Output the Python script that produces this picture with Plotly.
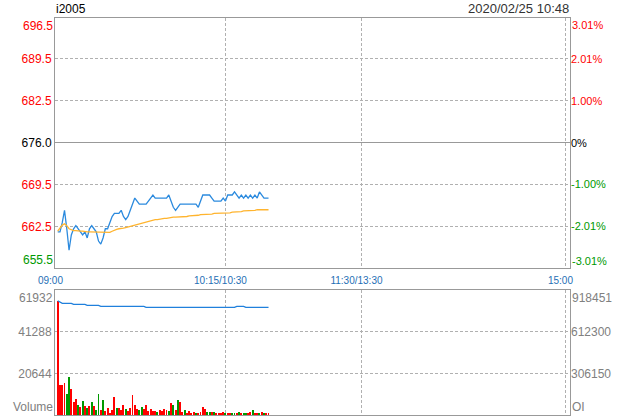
import plotly.graph_objects as go

# ---- data ----
minutes = list(range(1, 95))  # minutes after 09:00
price = [661.5, 661.5, 663.0, 665.0, 662.0, 658.5, 661.0, 662.0, 662.5, 662.0,
         661.5, 661.0, 661.5, 660.5, 662.0, 662.5, 662.0, 661.5, 660.0, 659.5,
         660.5, 662.0, 662.0, 663.0, 664.0, 664.5, 664.5, 664.5, 665.0, 664.0,
         663.5, 664.0, 665.0, 666.0, 667.0, 666.5, 666.0, 666.0, 666.0, 666.0,
         666.5, 667.0, 667.5, 667.0, 667.0, 667.0, 667.0, 667.0, 667.0, 667.5,
         666.5, 665.5, 665.0, 665.5, 666.0, 666.0, 666.0, 666.0, 666.0, 666.0,
         666.0, 666.0, 665.5, 666.5, 667.5, 667.5, 667.5, 667.5, 667.0, 666.5,
         666.5, 666.5, 666.5, 667.0, 666.5, 667.5, 667.5, 667.5, 668.0, 667.5,
         667.0, 667.5, 667.0, 667.5, 667.0, 667.5, 667.0, 667.5, 667.0, 668.0,
         667.5, 667.0, 667.0, 667.0]
avg_price = [661.6, 662.2, 662.6, 662.8, 662.5, 662.0, 661.8, 661.7, 661.7, 661.6,
             661.6, 661.6, 661.5, 661.5, 661.5, 661.5, 661.5, 661.5, 661.4, 661.4,
             661.4, 661.4, 661.4, 661.4, 661.6, 661.8, 661.9, 662.0, 662.0, 662.1,
             662.2, 662.3, 662.5, 662.6, 662.7, 662.8, 662.9, 663.0, 663.1, 663.2,
             663.3, 663.3, 663.4, 663.5, 663.5, 663.6, 663.6, 663.7, 663.7, 663.8,
             663.8, 663.9, 663.9, 663.9, 664.0, 664.0, 664.0, 664.0, 664.1, 664.1,
             664.1, 664.2, 664.2, 664.3, 664.3, 664.3, 664.4, 664.4, 664.4, 664.5,
             664.5, 664.5, 664.5, 664.6, 664.6, 664.6, 664.6, 664.7, 664.7, 664.8,
             664.8, 664.8, 664.9, 664.9, 664.9, 665.0, 665.0, 665.0, 665.1, 665.1,
             665.1, 665.1, 665.1, 665.1]
volume = [56600, 14560, 14560, 15890, 10430, 18870, 12910, 6120, 7940, 4970,
          3970, 6950, 4470, 3480, 4470, 6450, 4470, 2480, 10430, 2480,
          7450, 1990, 3480, 990, 2480, 8940, 3480, 3480, 2480, 4970,
          2980, 1990, 3480, 9930, 4970, 2980, 2480, 3970, 2980, 4970,
          1990, 2980, 1990, 1990, 1490, 2480, 1990, 2980, 2480, 1990,
          5960, 4970, 2480, 7450, 6450, 1490, 2480, 990, 1990, 500,
          1490, 500, 990, 1160, 3970, 2980, 1490, 1490, 1490, 1490,
          660, 990, 660, 1490, 660, 500, 500, 500, 500, 500,
          1490, 500, 990, 990, 990, 1490, 2480, 500, 500, 500,
          1490, 990, 500, 500]
vol_dir = list("rrrrggrrrg" "rgrgrgrggr" "grrrrrgrrr" "grrrrrggrr" "rrrrgrrrrg"
               "rgrgrrgrrr" "rgrrrrggrg" "rrrrgrrggr" "grggrrgrrg" "rgrr")
oi = [842000, 835000, 822400, 822400, 822400, 822400, 822400, 815100, 815100, 815100,
      815100, 815100, 815100, 807700, 807700, 807700, 807700, 807700, 807700, 800300,
      800300, 800300, 800300, 800300, 800300, 800300, 800300, 800300, 800300, 800300,
      800300, 800300, 800300, 800300, 800300, 800300, 800300, 800300, 800300, 793000,
      793000, 793000, 793000, 793000, 793000, 793000, 793000, 793000, 793000, 793000,
      793000, 793000, 793000, 793000, 793000, 793000, 793000, 793000, 793000, 793000,
      793000, 793000, 793000, 793000, 793000, 793000, 793000, 793000, 793000, 793000,
      793000, 793000, 793000, 793000, 793000, 793000, 793000, 793000, 793000, 800300,
      800300, 800300, 800300, 793000, 793000, 793000, 793000, 793000, 793000, 793000,
      793000, 793000, 793000, 793000]

prev_close = 676.0
pct_max = 3.01
price_lo = prev_close * (1 - pct_max / 100)
price_hi = prev_close * (1 + pct_max / 100)
price_ticks = [662.33, 669.17, 676.0, 682.83, 689.67]
price_ticktext = ["662.5", "669.5", "676.0", "682.5", "689.5"]
price_end_labels = ["655.5", "696.5"]
pct_ticks = [-2.007, -1.003, 0, 1.003, 2.007]
pct_ticktext = ["-2.01%", "-1.00%", "0%", "1.00%", "2.01%"]
pct_end_labels = ["-3.01%", "3.01%"]
x_ticks = [0, 75, 135, 225]
x_ticktext = ["09:00", "10:15/10:30", "11:30/13:30", "15:00"]
vol_max = 61932
vol_ticks = [20644, 41288]
oi_max = 918451
oi_ticks = [306150, 612300]

RED = "#ff0000"
GREEN = "#009900"
BLACK = "#000000"
GRAY_TXT = "#808080"
XBLUE = "#1f6fb5"
BORDER = "#999999"
GRID = "#b0b0b0"
FONT = "Liberation Sans"


def col_for(label):
    if label.startswith("-"):
        return GREEN
    if label in ("676.0", "0%"):
        return BLACK
    return RED


def colored(labels):
    return [f'<span style="color:{col_for(t)}">{t}</span>' for t in labels]


fig = go.Figure()
fig.add_trace(go.Scatter(x=minutes, y=price, mode="lines",
                         line=dict(color="#2b8ade", width=1.3), xaxis="x", yaxis="y"))
fig.add_trace(go.Scatter(x=minutes, y=avg_price, mode="lines",
                         line=dict(color="#ffb42e", width=1.3), xaxis="x", yaxis="y"))
fig.add_trace(go.Bar(x=minutes, y=volume, width=0.42,
                     marker=dict(color=[RED if d == "r" else GREEN for d in vol_dir], line=dict(width=0)),
                     xaxis="x2", yaxis="y3"))
fig.add_trace(go.Scatter(x=minutes, y=oi, mode="lines",
                         line=dict(color="#2080dc", width=1.3), xaxis="x2", yaxis="y4"))

xr = [-0.2, 227]
axis_common = dict(showline=True, linecolor=BORDER, linewidth=1, mirror=True,
                   gridcolor=GRID, griddash="3px,2px", gridwidth=1, zeroline=False,
                   fixedrange=True, ticks="")

fig.update_layout(
    width=620, height=420,
    margin=dict(l=55, r=50, t=18, b=5),
    paper_bgcolor="white", plot_bgcolor="white",
    showlegend=False,
    font=dict(family=FONT, size=12, color=BLACK),
    bargap=0,
    xaxis=dict(domain=[0, 1], anchor="y", range=xr, tickvals=x_ticks, ticktext=x_ticktext,
               tickfont=dict(size=10, color=XBLUE), showgrid=True, ticklabelshift=-5,
               ticklabelstandoff=3, **axis_common),
    yaxis=dict(domain=[0.371, 1], anchor="x", range=[price_lo, price_hi],
               tickvals=price_ticks, ticktext=colored(price_ticktext),
               tickfont=dict(size=12), showgrid=True, **axis_common),
    yaxis2=dict(overlaying="y", side="right", anchor="x",
                range=[-pct_max, pct_max], tickvals=pct_ticks, ticktext=colored(pct_ticktext),
                tickfont=dict(size=11), showgrid=False, showline=False, ticks="",
                zeroline=True, zerolinecolor=BORDER, zerolinewidth=1, fixedrange=True),
    xaxis2=dict(domain=[0, 1], anchor="y3", range=xr, tickvals=x_ticks, showticklabels=False,
                showgrid=True, **axis_common),
    yaxis3=dict(domain=[0, 0.314], anchor="x2", range=[0, vol_max], tickvals=vol_ticks,
                ticktext=[str(v) for v in vol_ticks],
                tickfont=dict(size=12, color=GRAY_TXT), showgrid=True, **axis_common),
    yaxis4=dict(overlaying="y3", side="right", anchor="x2", range=[0, oi_max],
                tickvals=oi_ticks, ticktext=[str(v) for v in oi_ticks],
                tickfont=dict(size=12, color=GRAY_TXT),
                showgrid=False, showline=False, ticks="", zeroline=False, fixedrange=True),
)

# end-of-axis labels placed inside the axis span, plus header texts
ann = [
    dict(text="i2005", x=0, xref="paper", xanchor="left", y=1, yref="paper", yanchor="bottom",
         yshift=1, font=dict(size=12, color=BLACK)),
    dict(text="2020/02/25 10:48", x=1, xref="paper", xanchor="right", y=1, yref="paper",
         yanchor="bottom", yshift=1, font=dict(size=13, color="#333333")),
    dict(text=price_end_labels[1], x=0, xref="paper", xanchor="right", xshift=-1,
         y=price_hi, yref="y", yanchor="top", font=dict(size=12, color=RED)),
    dict(text=price_end_labels[0], x=0, xref="paper", xanchor="right", xshift=-1,
         y=price_lo, yref="y", yanchor="bottom", font=dict(size=12, color=GREEN)),
    dict(text=pct_end_labels[1], x=1, xref="paper", xanchor="left", xshift=1,
         y=pct_max, yref="y2", yanchor="top", font=dict(size=11, color=RED)),
    dict(text=pct_end_labels[0], x=1, xref="paper", xanchor="left", xshift=1,
         y=-pct_max, yref="y2", yanchor="bottom", font=dict(size=11, color=GREEN)),
    dict(text=str(vol_max), x=0, xref="paper", xanchor="right", xshift=-1,
         y=vol_max, yref="y3", yanchor="top", font=dict(size=12, color=GRAY_TXT)),
    dict(text="Volume", x=0, xref="paper", xanchor="right", xshift=-1,
         y=0, yref="y3", yanchor="bottom", font=dict(size=12, color=GRAY_TXT)),
    dict(text=str(oi_max), x=1, xref="paper", xanchor="left", xshift=1,
         y=oi_max, yref="y4", yanchor="top", font=dict(size=12, color=GRAY_TXT)),
    dict(text="OI", x=1, xref="paper", xanchor="left", xshift=1,
         y=0, yref="y4", yanchor="bottom", font=dict(size=12, color=GRAY_TXT)),
]
for a in ann:
    a.setdefault("showarrow", False)
    a["borderpad"] = 0
fig.update_layout(annotations=ann)

fig.write_html("out.html", config={"displayModeBar": False},
               post_script="document.body.style.margin='0';")
